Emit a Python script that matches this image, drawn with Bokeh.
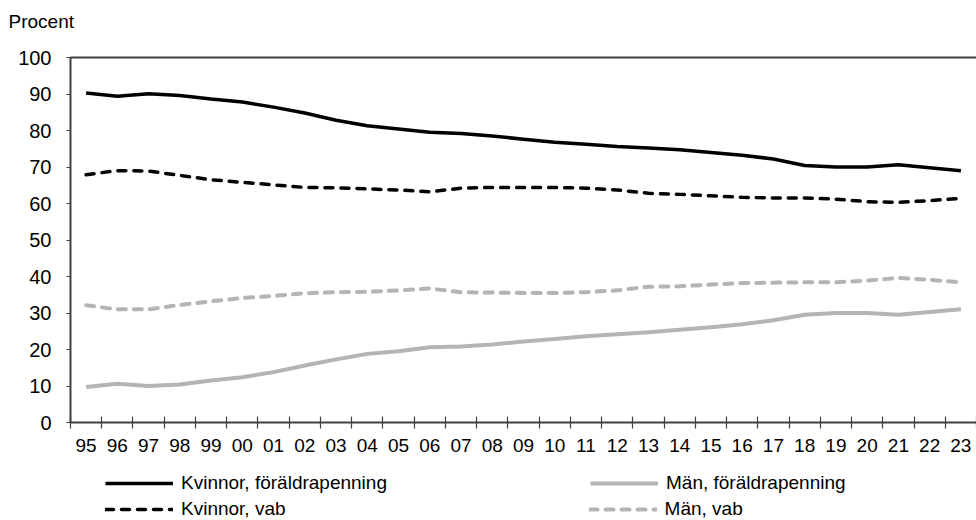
from bokeh.plotting import figure
from bokeh.layouts import column
from bokeh.models import Range1d, FixedTicker, LinearAxis, Legend, LegendItem
from bokeh.embed import file_html
from bokeh.resources import INLINE

years = ["95", "96", "97", "98", "99", "00", "01", "02", "03", "04", "05", "06", "07", "08",
         "09", "10", "11", "12", "13", "14", "15", "16", "17", "18", "19", "20", "21", "22", "23"]
kvinnor_fp = [90.3, 89.4, 90.1, 89.6, 88.6, 87.8, 86.4, 84.8, 82.8, 81.3, 80.4, 79.5, 79.2, 78.5,
              77.6, 76.8, 76.2, 75.6, 75.2, 74.7, 74.0, 73.2, 72.2, 70.4, 70.0, 70.0, 70.6, 69.8, 69.0]
man_fp = [9.7, 10.6, 10.0, 10.4, 11.5, 12.4, 13.8, 15.6, 17.3, 18.8, 19.5, 20.6, 20.8, 21.4,
          22.2, 22.9, 23.6, 24.2, 24.7, 25.4, 26.1, 26.9, 28.0, 29.5, 30.0, 30.0, 29.5, 30.3, 31.0]
kvinnor_vab = [67.9, 69.0, 68.9, 67.7, 66.5, 65.8, 65.1, 64.4, 64.3, 64.0, 63.7, 63.2, 64.2, 64.4,
               64.4, 64.4, 64.2, 63.7, 62.8, 62.5, 62.1, 61.7, 61.5, 61.5, 61.2, 60.5, 60.3, 60.8, 61.4]
man_vab = [32.1, 31.0, 31.0, 32.2, 33.2, 34.1, 34.7, 35.4, 35.7, 35.8, 36.2, 36.7, 35.7, 35.6,
           35.5, 35.5, 35.7, 36.2, 37.2, 37.3, 37.8, 38.2, 38.3, 38.4, 38.4, 38.9, 39.6, 39.1, 38.4]
y_ticks = [0, 10, 20, 30, 40, 50, 60, 70, 80, 90, 100]
series_labels = ["Kvinnor, föräldrapenning", "Män, föräldrapenning", "Kvinnor, vab", "Män, vab"]
unit_label = "Procent"

FONT = "Liberation Sans"
BLACK = "#000000"
GRAY = "#b4b4b4"
AXIS = "#404040"

n = len(years)
xs = [i + 0.5 for i in range(n)]
all_series = [kvinnor_fp, man_fp, kvinnor_vab, man_vab]
styles = [
    dict(line_color=BLACK, line_width=3.5, line_join="round"),
    dict(line_color=GRAY, line_width=4, line_join="round"),
    dict(line_color=BLACK, line_width=3.5, line_dash="8 8", line_cap="round", line_join="round"),
    dict(line_color=GRAY, line_width=4, line_dash="8 8", line_cap="round", line_join="round"),
]


def strip(height, x_range, y_range, top=0):
    f = figure(width=976, height=height, output_backend="svg", toolbar_location=None,
               x_range=x_range, y_range=y_range, x_axis_type=None, y_axis_type=None,
               min_border_left=0, min_border_right=0, min_border_top=top, min_border_bottom=0)
    f.outline_line_color = None
    f.grid.visible = False
    f.background_fill_color = "white"
    f.border_fill_color = "white"
    return f


# top strip carrying the unit text as its title
tp = strip(38, Range1d(0, 1), Range1d(0, 1), top=31)
tp.title.text = unit_label
tp.title.align = "left"
tp.title.offset = -62
tp.title.standoff = 0
tp.title.text_font = FONT
tp.title.text_font_style = "normal"
tp.title.text_font_size = "19px"
tp.title.text_color = BLACK

# main chart
p = figure(width=976, height=424, output_backend="svg", toolbar_location=None,
           x_range=Range1d(0, n), y_range=Range1d(0, 100),
           x_axis_type=None, y_axis_type=None,
           min_border_left=70, min_border_right=0, min_border_top=19, min_border_bottom=40)
p.outline_line_color = None
p.background_fill_color = "white"
p.border_fill_color = "white"
p.grid.visible = False

# x axis (labels at category centres, tick marks between categories)
xaxis = LinearAxis(ticker=FixedTicker(ticks=xs, minor_ticks=list(range(n + 1))),
                   major_label_overrides={xv: yl for xv, yl in zip(xs, years)})
xaxis.axis_line_color = AXIS
xaxis.axis_line_width = 2
xaxis.major_tick_in = 0
xaxis.major_tick_out = 0
xaxis.minor_tick_in = 6
xaxis.minor_tick_out = 6
xaxis.minor_tick_line_color = AXIS
xaxis.minor_tick_line_width = 1.2
xaxis.major_label_standoff = 10
xaxis.major_label_text_font = FONT
xaxis.major_label_text_font_size = "19px"
xaxis.major_label_text_color = BLACK
p.add_layout(xaxis, "below")

# y axis
yaxis = LinearAxis(ticker=FixedTicker(ticks=y_ticks, minor_ticks=[]))
yaxis.axis_line_color = AXIS
yaxis.axis_line_width = 2
yaxis.major_tick_in = 0
yaxis.major_tick_out = 4
yaxis.major_tick_line_color = AXIS
yaxis.major_tick_line_width = 1.2
yaxis.major_label_standoff = 15
yaxis.major_label_text_font = FONT
yaxis.major_label_text_font_size = "20px"
yaxis.major_label_text_color = BLACK
p.add_layout(yaxis, "left")

# top border line
top = LinearAxis(ticker=FixedTicker(ticks=[], minor_ticks=[]))
top.axis_line_color = AXIS
top.axis_line_width = 2
top.major_tick_out = 0
top.major_tick_in = 0
top.major_label_text_font_size = "0px"
top.major_label_standoff = 0
p.add_layout(top, "above")

for ys, st in zip(all_series, styles):
    p.line(xs, ys, **st)

# legend strip below the chart (its lines lie outside its visible range)
lp = strip(58, Range1d(0, n), Range1d(1000, 1001))
legend_lines = [lp.line(xs, ys, **st) for ys, st in zip(all_series, styles)]


def make_legend(idx, gap, vy):
    items = [LegendItem(label=series_labels[i], renderers=[legend_lines[i]]) for i in idx]
    lg = Legend(items=items, orientation="horizontal")
    lg.location = (35, vy)
    lg.border_line_color = None
    lg.background_fill_alpha = 0
    lg.glyph_width = 68
    lg.glyph_height = 20
    lg.label_height = 20
    lg.label_standoff = 8
    lg.spacing = gap
    lg.padding = 0
    lg.margin = 0
    lg.label_text_font = FONT
    lg.label_text_font_size = "19px"
    lg.label_text_color = BLACK
    return lg


lp.add_layout(make_legend([0, 1], 203, 26), "center")
lp.add_layout(make_legend([2, 3], 303, 0), "center")

layout = column(tp, p, lp, spacing=0)
open("out.html", "w").write(file_html(layout, INLINE))
